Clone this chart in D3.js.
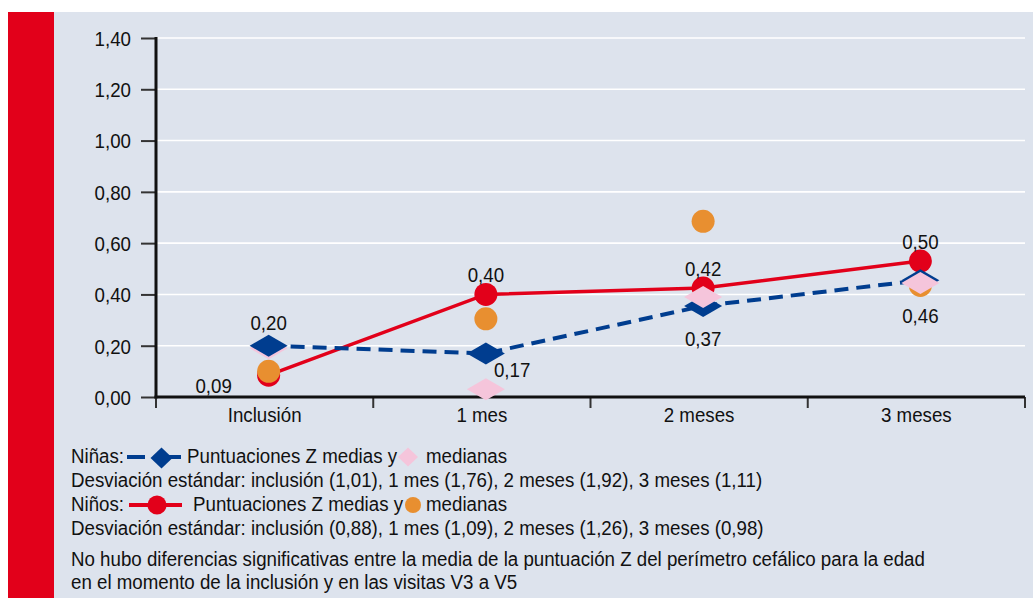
<!DOCTYPE html>
<html>
<head>
<meta charset="utf-8">
<script src="https://cdn.jsdelivr.net/npm/d3@7"></script>
<style>
  html, body { margin: 0; padding: 0; background: #ffffff; }
  svg { display: block; }
  text { font-family: "Liberation Sans", Arial, sans-serif; fill: #111; }
</style>
</head>
<body>
<svg id="chart" width="1033" height="598"></svg>
<script>
// ---------- DATA ----------
const categories = ["Inclusión", "1 mes", "2 meses", "3 meses"];
const yTicks = [0, 0.2, 0.4, 0.6, 0.8, 1.0, 1.2, 1.4];

// Niñas (girls)
const ninasMean = [0.20, 0.17, 0.355, 0.455];
const ninasMedian = [0.19, 0.03, 0.39, 0.445];
const ninasLabels = ["0,20", "0,17", "0,37", "0,46"];
const ninasLabelPos = ["above", "belowright", "below", "below"];

// Niños (boys)
const ninosMean = [0.085, 0.40, 0.425, 0.53];
const ninosMedian = [0.10, 0.305, 0.685, 0.435];
const ninosLabels = ["0,09", "0,40", "0,42", "0,50"];
const ninosLabelPos = ["left", "above", "above", "above"];

const legendLines = [
  "Desviación estándar: inclusión (1,01), 1 mes (1,76), 2 meses (1,92), 3 meses (1,11)",
  "Desviación estándar: inclusión (0,88), 1 mes (1,09), 2 meses (1,26), 3 meses (0,98)",
  "No hubo diferencias significativas entre la media de la puntuación Z del perímetro cefálico para la edad",
  "en el momento de la inclusión y en las visitas V3 a V5"
];

// ---------- STYLE ----------
const C = {
  red: "#e2001a", blue: "#003d8f", pink: "#f5c5db", orange: "#e88f30",
  panel: "#dde3ed", axis: "#111"
};
const FS = 21;

const svg = d3.select("#chart");

// condense factor: emulate a condensed typeface by horizontally scaling text
const probe = svg.append("text").attr("font-size", FS).text(legendLines[0]);
const S = 692 / probe.node().getComputedTextLength();
probe.remove();

function ctext(g, tx, ty, str, anchor) {
  return g.append("text")
    .attr("transform", `translate(${tx},${ty}) scale(${S},1)`)
    .attr("text-anchor", anchor || "start")
    .attr("font-size", FS)
    .text(str);
}

// background panels
svg.append("rect").attr("x", 54).attr("y", 12).attr("width", 979).attr("height", 586).attr("fill", C.panel);
svg.append("rect").attr("x", 8).attr("y", 12).attr("width", 46).attr("height", 586).attr("fill", C.red);

const x0 = 156, x1 = 1025, yTop = 38, yBot = 397;
const x = d3.scaleBand().domain(categories).range([x0, x1]);
const y = d3.scaleLinear().domain([0, 1.4]).range([yBot, yTop]);
const px = (i) => x(categories[i]) + x.bandwidth() / 2 + 4;
const fmt = (v) => d3.format(".2f")(v).replace(".", ",");

// gridlines
svg.append("g").selectAll("line").data(yTicks.filter(d => d > 0)).join("line")
  .attr("x1", x0).attr("x2", x1).attr("y1", d => y(d)).attr("y2", d => y(d))
  .attr("stroke", "#ffffff").attr("stroke-width", 1.6);

// y axis
const yAxis = svg.append("g").attr("transform", `translate(${x0},0)`)
  .call(d3.axisLeft(y).tickValues(yTicks).tickFormat(fmt).tickSize(15).tickPadding(10));
yAxis.select(".domain").remove();
yAxis.selectAll(".tick line").attr("stroke", "#333").attr("stroke-width", 2);
yAxis.selectAll(".tick text")
  .attr("font-size", FS).attr("fill", "#111")
  .attr("x", -25 / S).attr("dy", "0.35em")
  .attr("transform", `scale(${S},1)`)
  .style("font-family", '"Liberation Sans", Arial, sans-serif');
svg.append("line").attr("x1", x0).attr("x2", x0).attr("y1", yTop - 1).attr("y2", yBot + 1.5)
  .attr("stroke", C.axis).attr("stroke-width", 3);

// x axis
const xAxis = svg.append("g").attr("transform", `translate(0,${yBot})`)
  .call(d3.axisBottom(x).tickSize(0).tickPadding(10));
xAxis.select(".domain").remove();
xAxis.selectAll(".tick text")
  .attr("font-size", FS).attr("fill", "#111")
  .attr("transform", `scale(${S},1)`)
  .style("font-family", '"Liberation Sans", Arial, sans-serif');
const bounds = categories.map(c => x(c)).concat([x1]);
svg.append("g").selectAll("line").data(bounds).join("line")
  .attr("x1", d => d).attr("x2", d => d).attr("y1", yBot).attr("y2", yBot + 11)
  .attr("stroke", "#333").attr("stroke-width", 2);
svg.append("line").attr("x1", x0 - 1.5).attr("x2", x1).attr("y1", yBot).attr("y2", yBot)
  .attr("stroke", C.axis).attr("stroke-width", 3);

// diamond path
const diamond = (cx, cy, w, h) => `M${cx - w / 2},${cy}L${cx},${cy - h / 2}L${cx + w / 2},${cy}L${cx},${cy + h / 2}Z`;

const line = d3.line().x((d, i) => px(i)).y(d => y(d));

// red mean line + circles
svg.append("path").datum(ninosMean).attr("d", line).attr("fill", "none")
  .attr("stroke", C.red).attr("stroke-width", 3.5);
svg.append("g").selectAll("circle").data(ninosMean).join("circle")
  .attr("cx", (d, i) => px(i)).attr("cy", d => y(d)).attr("r", 11.5).attr("fill", C.red);

// orange medians
svg.append("g").selectAll("circle").data(ninosMedian).join("circle")
  .attr("cx", (d, i) => px(i)).attr("cy", d => y(d)).attr("r", 11.5).attr("fill", C.orange);

const pinkG1 = svg.append("g");
// blue dashed
svg.append("path").datum(ninasMean).attr("d", line).attr("fill", "none")
  .attr("stroke", C.blue).attr("stroke-width", 4).attr("stroke-dasharray", "14,8");
svg.append("g").selectAll("path").data(ninasMean).join("path")
  .attr("d", (d, i) => diamond(px(i), y(d), 38, 22)).attr("fill", C.blue);
const pinkG2 = svg.append("g");
ninasMedian.forEach((d, i) => {
  (i === 0 ? pinkG1 : pinkG2).append("path")
    .attr("d", diamond(px(i), y(d), 38, 22)).attr("fill", C.pink);
});

// value labels
const lblG = svg.append("g");
ninasMean.forEach((d, i) => {
  const cx = px(i), cy = y(d);
  const low = Math.max(cy, y(ninasMedian[i]));
  let tx = cx, ty = cy, anchor = "middle";
  const p = ninasLabelPos[i];
  if (p === "above") { ty = cy - 16; }
  else if (p === "below") { ty = low + 40; }
  else if (p === "belowright") { tx = cx + 8; ty = cy + 24; anchor = "start"; }
  ctext(lblG, tx, ty, ninasLabels[i], anchor);
});
ninosMean.forEach((d, i) => {
  const cx = px(i), cy = y(d);
  let tx = cx, ty = cy, anchor = "middle";
  const p = ninosLabelPos[i];
  if (p === "above") { ty = cy - 12; }
  else if (p === "left") { tx = cx - 55; ty = cy + 18; }
  ctext(lblG, tx, ty, ninosLabels[i], anchor);
});

// ---------- LEGEND ----------
const lg = svg.append("g");
const lx = 71;
const base = [463, 487, 511, 535, 566, 589];
// line 1
ctext(lg, lx, base[0], "Niñas:");
lg.append("line").attr("x1", 127).attr("x2", 145).attr("y1", 457).attr("y2", 457).attr("stroke", C.blue).attr("stroke-width", 4);
lg.append("line").attr("x1", 165).attr("x2", 181).attr("y1", 457).attr("y2", 457).attr("stroke", C.blue).attr("stroke-width", 4);
lg.append("path").attr("d", diamond(161.5, 458, 22, 21)).attr("fill", C.blue);
ctext(lg, 187, base[0], "Puntuaciones Z medias y");
lg.append("path").attr("d", diamond(408, 457, 20, 19)).attr("fill", C.pink);
ctext(lg, 426, base[0], "medianas");
// line 2
ctext(lg, lx, base[1], legendLines[0]);
// line 3
ctext(lg, lx, base[2], "Niños:");
lg.append("line").attr("x1", 129).attr("x2", 182).attr("y1", 505).attr("y2", 505).attr("stroke", C.red).attr("stroke-width", 4);
lg.append("circle").attr("cx", 157).attr("cy", 505).attr("r", 9.5).attr("fill", C.red);
ctext(lg, 193, base[2], "Puntuaciones Z medias y");
lg.append("circle").attr("cx", 413).attr("cy", 505).attr("r", 8).attr("fill", C.orange);
ctext(lg, 426, base[2], "medianas");
// lines 4-6
ctext(lg, lx, base[3], legendLines[1]);
ctext(lg, lx, base[4], legendLines[2]);
ctext(lg, lx, base[5], legendLines[3]);
</script>
</body>
</html>
